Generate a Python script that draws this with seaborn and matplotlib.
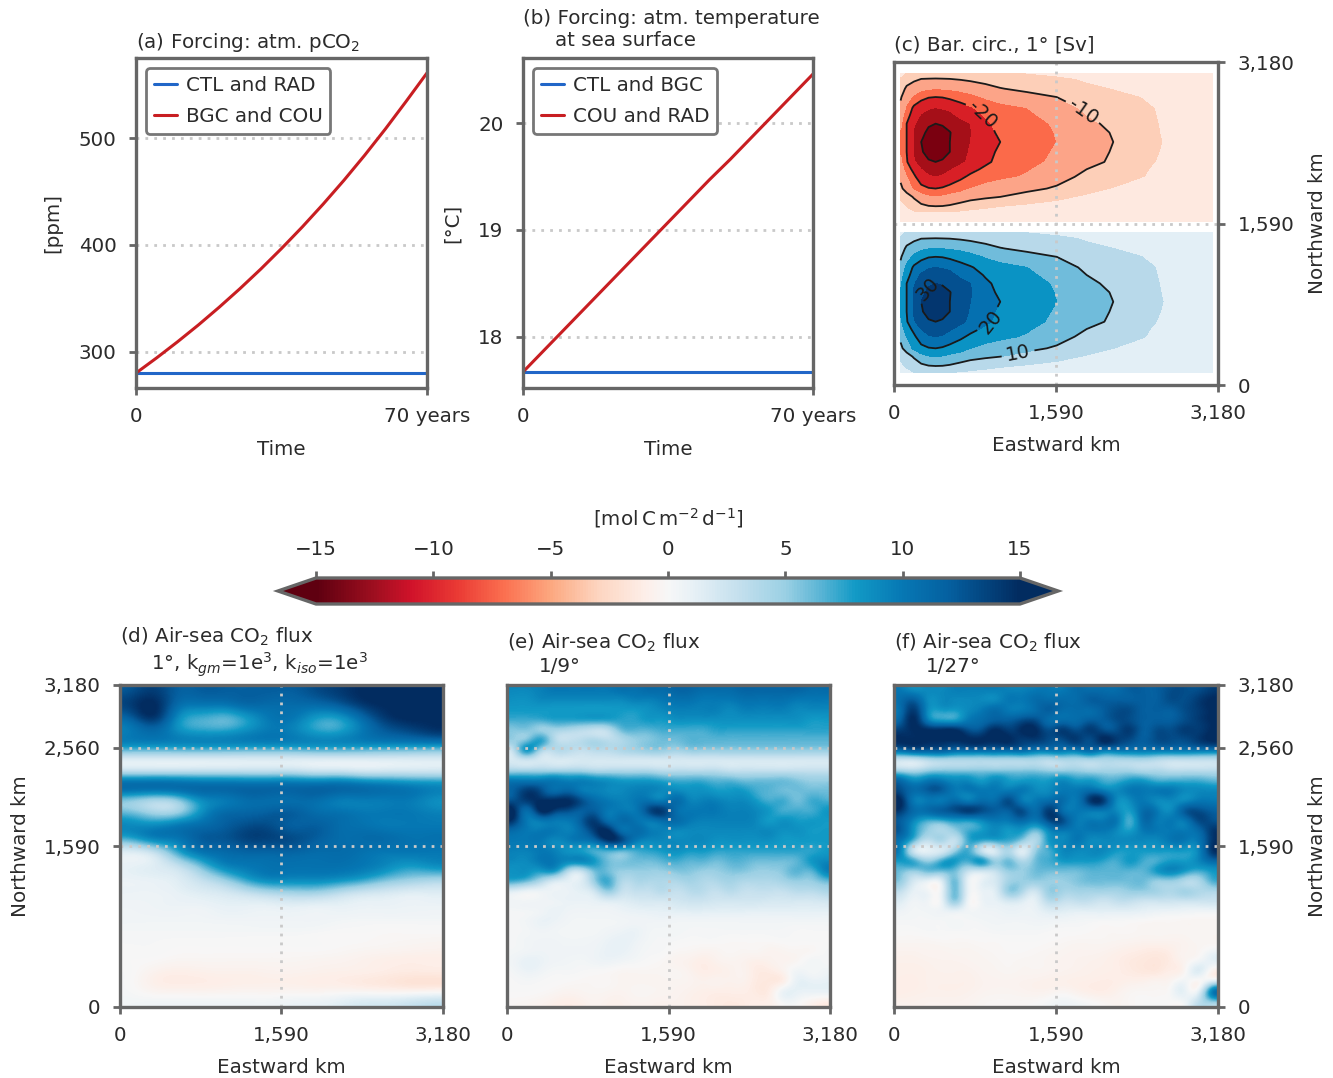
import matplotlib
matplotlib.use('Agg')
import matplotlib.pyplot as plt
import numpy as np
import seaborn as sns
from matplotlib.cm import ScalarMappable
from matplotlib.colors import LinearSegmentedColormap, Normalize

W, H = 1333, 1078

# forcing lines
years = [0, 5, 10, 15, 20, 25, 30, 35, 40, 45, 50, 55, 60, 65, 70]
pco2_ctl = [280] * 15
pco2_bgc = [280, 294.3, 309.3, 325, 341.6, 359, 377.3, 396.6, 416.8, 438.1, 460.4, 483.9, 508.6, 534.5, 561]
temp_ctl = [17.67] * 15
temp_cou = [17.67, 17.87, 18.07, 18.27, 18.47, 18.67, 18.87, 19.07, 19.27, 19.47, 19.66, 19.86, 20.06, 20.26, 20.46]

# barotropic circulation magnitude, one gyre [Sv]
gyre_x = [65, 124, 196, 267, 339, 408, 476, 548, 652, 750, 897, 1043, 1304, 1597, 1891, 2152, 2412, 2641, 3130]
north_y = [3071, 3016, 2917, 2835, 2731, 2656, 2573, 2485, 2393, 2295, 2196, 2124, 2049, 1934, 1852, 1760, 1695, 1610]
south_y = [1498, 1443, 1344, 1262, 1158, 1083, 1000, 912, 820, 722, 623, 551, 476, 361, 279, 187, 122]
gyre = [
    [4, 5.5, 5.8, 6, 6.5, 6.8, 6.7, 6.5, 6.2, 6, 5.7, 5.5, 5, 4, 2.5, 2, 1.5, 1, 0.5],
    [5.5, 7.5, 9, 9.9, 10, 10.1, 10, 9.9, 9.5, 9, 8.3, 7.8, 7, 6, 4.5, 3, 2, 1.5, 0.6],
    [7.5, 11, 12.5, 14, 14.7, 15, 14.8, 14.5, 13.8, 13, 11.5, 10.2, 9, 7.5, 6, 5, 3.3, 2, 0.7],
    [9.5, 13, 16, 18.5, 19.7, 20, 19.8, 19, 17.8, 16.5, 14.5, 13, 11.5, 10, 8, 6.5, 5.2, 3, 0.8],
    [11, 16, 21, 23, 24.5, 25, 24.6, 24, 22, 20.5, 18, 16.5, 15, 12.5, 9, 7.5, 6, 4.5, 1],
    [12.5, 18, 22.5, 25.5, 27, 27.5, 27, 26.2, 24, 22.5, 19.5, 17.5, 15.8, 13.5, 10, 8.5, 6.5, 4.5, 1],
    [14, 20, 24.5, 27.5, 29.5, 30, 29.6, 28.5, 26.5, 25, 21, 18.5, 16.5, 14.5, 11, 9, 7, 4.6, 1],
    [15.5, 20, 25.5, 29, 30.8, 32, 31.3, 30.2, 27.5, 25.3, 21.5, 19.2, 17, 14.8, 11.8, 9.7, 6.9, 4.8, 1],
    [17, 20, 25.5, 30, 32.5, 34, 32.5, 30, 27.5, 25, 22, 20, 17.5, 15, 12.5, 10, 6.8, 5, 1],
    [15.5, 20, 25.5, 29.5, 31.5, 32.5, 31.5, 30, 27, 24.5, 21.5, 19.2, 17, 14.5, 11.8, 9.7, 6.5, 4.8, 1],
    [14, 19.5, 24.5, 27.5, 29.5, 30, 29.5, 28, 26, 24, 21, 18.5, 16.5, 14, 11, 9.5, 6.2, 4.5, 1],
    [12.5, 17.5, 21.5, 25, 26.7, 27.5, 26.7, 25.5, 23.5, 21.5, 19, 17.2, 15.5, 12.8, 10, 8.5, 5.8, 4, 1],
    [11, 15, 19, 23, 24.5, 25, 24.5, 23, 21, 19, 17, 16, 14.5, 11.5, 9, 7.5, 5.5, 3.5, 1],
    [9, 12, 16, 18.5, 19.7, 20, 19.5, 18.5, 17, 15, 13.5, 12.5, 11, 9.5, 7, 5, 3, 2, 0.7],
    [6, 8, 10.5, 13, 14.5, 15, 14.5, 13.5, 12.5, 11.5, 10.7, 10, 8.5, 6.5, 4.5, 3, 2, 1.2, 0.6],
    [4, 5.5, 7.5, 9, 9.8, 10, 9.9, 9.5, 8.5, 7.5, 6.4, 5.5, 4.5, 3.5, 2.5, 1.5, 1, 0.8, 0.4],
    [3, 4, 4.8, 5, 5, 5, 5, 4.8, 4.5, 4, 3.4, 3, 2.5, 1.5, 1, 0.8, 0.7, 0.5, 0.3],
    [0.8, 0.8, 0.8, 0.8, 0.8, 0.8, 0.8, 0.8, 0.8, 0.8, 0.8, 0.8, 0.8, 0.7, 0.6, 0.5, 0.5, 0.4, 0.3],
]

flux_d = [
    [13, 14, 12, 12, 12, 12, 12, 12, 13, 14, 15, 15, 15, 15],
    [14, 15, 11, 10, 10, 11, 11, 11, 11, 12, 14, 15, 15, 15],
    [12, 14, 9, 7, 6.5, 8, 10, 10, 8, 8, 11, 14, 15, 15],
    [10, 11, 9, 8, 8, 9, 10, 9.5, 8, 8, 10, 12, 13, 14],
    [8.5, 8.5, 8.5, 8.5, 8.5, 8.5, 8.5, 8.5, 8.5, 8.5, 8.5, 8.5, 8.5, 8.5],
    [2, 2, 2, 2, 2, 2, 2, 2, 2, 2, 2, 2, 2, 2],
    [4, 4, 4, 4, 4, 4, 4, 4, 3.5, 3.5, 3, 3, 3, 3],
    [11, 11, 11, 11, 11, 11, 11, 11, 11, 11, 10.5, 10, 9.5, 9],
    [6, 5, 6, 9, 10, 11, 11, 11, 11, 10, 10, 10, 10, 9],
    [6, 4.5, 5, 8.5, 11, 11.5, 12, 12, 11, 10.5, 10, 10, 10, 9.5],
    [9, 9, 10, 11, 12, 13, 13, 12, 12, 11, 10.5, 10, 10, 10],
    [7, 9, 10, 12, 12.5, 13.5, 13.5, 13, 12, 11, 11, 11, 10.5, 10.5],
    [1.5, 3, 7, 10, 11, 11.5, 11.5, 11.5, 11, 11, 10.5, 10, 10, 10],
    [1, 1.5, 3, 6, 9, 10, 10.5, 10.5, 10.5, 10.5, 10, 9, 8, 8.5],
    [0.8, 1, 1.5, 3, 5, 7.5, 9, 9, 9, 8.5, 7.5, 6, 5, 4.5],
    [0.7, 0.7, 1, 1.5, 2, 3, 4, 4.5, 4.5, 3.5, 2.5, 2, 1.5, 1.5],
    [0.5, 0.6, 0.7, 0.7, 1, 1, 1, 1.2, 1, 1, 0.8, 0.8, 0.7, 0.7],
    [0.4, 0.4, 0.4, 0.4, 0.5, 0.5, 0.5, 0.5, 0.5, 0.4, 0.3, 0.3, 0.3, 0.3],
    [0.2, 0.2, 0.2, 0.2, 0.2, 0.2, 0.2, 0.2, 0.1, 0, 0, -0.1, -0.1, -0.1],
    [0.1, 0.1, 0, 0, 0, 0, 0, 0, 0, -0.1, -0.2, -0.3, -0.4, -0.5],
    [0, -0.1, -0.3, -0.3, -0.3, -0.3, -0.3, -0.3, -0.4, -0.5, -0.7, -0.9, -1, -1],
    [0, -0.7, -1, -0.9, -0.8, -0.8, -0.7, -0.7, -0.8, -0.9, -1, -1.2, -1.4, -1.4],
    [0, -0.7, -0.9, -0.9, -0.8, -0.7, -0.7, -0.7, -0.8, -0.8, -1, -1.2, -1.4, -1.4],
    [0.3, 0.3, 0.3, 0.3, 0.3, 0.3, 0.3, 0.5, 0.6, 1, 1.5, 1.6, 2, 2.5],
]

flux_e = [
    [9, 9, 9.5, 10, 10, 10, 10, 10, 10.5, 10.5, 11, 11, 11.5, 11.5, 11, 11, 11, 11.5, 11.5, 11.5, 11.5, 11.5, 11, 11],
    [8.5, 8.5, 9, 9, 9, 9, 9, 9, 9, 9.5, 9.5, 10, 10.5, 10.5, 10, 10, 10, 10.5, 10.5, 10.5, 10.5, 10, 10, 10],
    [8, 8, 8, 8, 8, 8, 8, 8, 8, 8, 8.5, 9, 9.5, 9.5, 9.5, 9.5, 9, 9.5, 9.5, 9.5, 9.5, 9, 9, 9],
    [7, 7, 7, 7.5, 7.5, 7.5, 7.5, 7.5, 7.5, 7.5, 8, 8, 8.5, 8.5, 8.5, 8.5, 8.5, 8.5, 8.5, 8.5, 8.5, 8.5, 8, 8],
    [5.5, 5.5, 5, 4.5, 4, 3.5, 3, 3.5, 6, 6.5, 6.5, 7, 7, 7, 7, 7.5, 7.5, 7.5, 7.5, 7.5, 7.5, 7.5, 7.5, 7.5],
    [5, 6, 7.5, 4, 3, 3.5, 4, 3.5, 4, 5, 5.5, 6, 6, 6.5, 6.5, 6.5, 6.5, 6.5, 6.5, 6.5, 6.5, 6.5, 6.5, 6.5],
    [3.5, 8, 4.5, 3.5, 3.5, 3, 3.5, 3.5, 4, 4.5, 5, 5, 4.5, 5, 5, 5, 5, 5, 5, 5, 5, 5, 5, 5],
    [2, 2.5, 2, 1.8, 1.8, 2, 2, 2, 2, 2, 2, 2, 2, 2, 2, 2, 2, 2, 2, 2, 2, 2, 2, 2],
    [4.5, 4.5, 4.5, 4.5, 4.5, 4.5, 4, 4, 4, 4, 4, 3.5, 3.5, 3.5, 3.5, 3.5, 3, 3, 3, 3, 3, 3, 3, 3],
    [10, 10, 10, 10, 9.5, 9.5, 9, 8.5, 8, 8, 8, 7.5, 7, 7, 7, 6.5, 6.5, 6, 6, 6, 6, 5.5, 5, 5],
    [12, 14, 13, 11, 11.5, 10, 9.5, 9, 9, 9.5, 9.5, 9, 9, 8.5, 8.5, 8, 8, 8, 7, 6.5, 6, 6, 6, 6],
    [13, 14, 15, 15, 15, 13, 11, 10, 9.5, 10, 10.5, 10, 11, 9.5, 9.5, 9.5, 9, 9, 8, 7, 7, 6, 7, 7],
    [15, 11, 15, 14, 13, 12, 12, 10, 10, 10, 13, 14, 11, 10, 10, 10, 9.5, 9.5, 9, 8, 7, 7, 7, 8],
    [14, 10, 10, 10, 10, 12, 14, 11, 11, 10.5, 10, 11, 11, 10, 9.5, 9.5, 9.5, 9.5, 9, 8, 8.5, 8, 8, 8],
    [11, 10, 10, 10, 9.5, 11, 14, 15, 11, 11, 10, 9.5, 9, 9, 9, 9, 9, 9, 9, 9, 8.5, 8.5, 8, 8],
    [10, 10, 10, 9, 9.5, 10, 11, 14, 13, 10, 9, 9, 9, 9, 9, 8.5, 8.5, 8.5, 8.5, 8.5, 8, 8, 8, 8],
    [9.5, 9.5, 10, 9.5, 8.5, 8, 7, 7, 6.5, 7, 7.5, 8, 8.5, 8, 8, 7.5, 7.5, 7.5, 7.5, 7.5, 7.5, 7.5, 7.5, 8],
    [9, 9, 10, 10, 9, 9, 8, 6, 5.5, 6, 6, 6.5, 7, 6.5, 6.5, 6, 6.5, 6.5, 6, 6, 6, 6.5, 8, 9],
    [8.5, 8.5, 8, 8, 4, 3, 6, 6, 5, 5, 5, 5, 5.5, 5.5, 5, 5, 5.5, 5.5, 5, 5, 5.5, 6.5, 6.5, 9],
    [7, 6, 4, 2, 1.2, 1.5, 5, 7, 4, 4, 4, 4, 4, 4.5, 4, 4, 4.5, 4, 4, 4, 4.5, 5, 5, 6],
    [1.5, 0.8, 0.7, 0.7, 0.8, 1.2, 2.5, 5, 3, 3, 3, 3.5, 3, 3.5, 3.5, 3, 3.5, 3, 3, 3, 3, 3.5, 3.5, 4],
    [0.4, 0.4, 0.5, 0.6, 0.8, 0.8, 1, 1.5, 1.5, 1.8, 2, 2, 2.2, 2.5, 2.5, 2.2, 2.2, 2.2, 2.2, 2, 2, 2, 2, 2.2],
    [0.2, 0.3, 0.5, 0.8, 0.6, 0.5, 0.5, 0.5, 0.7, 0.9, 1, 1.1, 1.2, 1.3, 1.3, 1.2, 1.2, 1.2, 1.1, 1.1, 1.1, 1.1, 1.1, 1.1],
    [0.2, 0.4, 0.8, 0.7, 0.4, 0.3, 0.3, 0.3, 0.4, 0.5, 0.5, 0.5, 0.4, 0.4, 0.4, 0.4, 0.4, 0.4, 0.4, 0.4, 0.4, 0.4, 0.4, 0.4],
    [0.2, 0.3, 0.5, 0.4, 0.3, 0.3, 0.3, 0.5, 0.7, 0.8, 0.4, 0.3, 0.3, 0.2, 0.2, 0.2, 0.2, 0.2, 0.2, 0.2, 0.2, 0.1, 0.1, 0.1],
    [0.2, 0.4, 0.5, 0.5, 0.4, 0.4, 0.5, 0.8, 1, 0.7, 0.3, 0.2, 0.1, 0, 0, 0, -0.1, -0.1, -0.1, -0.1, 0, 0, 0, 0],
    [0.3, 0.5, 0.6, 0.5, 0.5, 0.5, 0.6, 0.9, 0.9, 0.5, 0.2, 0.1, -0.2, -0.3, -0.5, -0.4, -0.2, -0.3, -0.3, -0.5, -0.4, -0.3, -0.2, 0.1],
    [0.5, 1, 0.8, 0.5, 0.4, 0.3, 0.5, 0.6, 0.4, 0.2, 0, -0.2, -0.5, -0.7, -1, -0.7, -0.5, -0.6, -0.9, -0.7, -0.5, -0.2, 0.3, 0.2],
    [0.3, 0.7, 0.5, 0.2, 0.2, 0.1, 0, -0.1, -0.3, -0.3, -0.3, -0.3, -0.3, -0.6, -1, -0.9, -0.7, -0.6, -1.2, -1.2, -0.6, 0.5, 0.3, 0.5],
    [0.1, 0.2, 0.1, 0, -0.1, -0.2, -0.2, -0.2, -0.4, -0.4, -0.4, -0.4, -0.4, -0.5, -0.7, -0.6, -0.7, -0.7, -1.3, -1.4, -0.8, 1, 1, 1],
    [0, 0, -0.1, -0.3, -0.5, -0.4, -0.3, -0.4, -0.5, -0.3, -0.3, -0.4, -0.5, -0.7, -0.9, -1, -1, -1, -1.3, -1, 0.8, 1, 0.8, 0.8],
    [-0.2, -0.3, -0.5, -0.8, -1, -0.8, -0.5, -0.7, -0.7, -0.5, -0.5, -0.6, -0.6, -0.8, -1, -1.2, -1.3, -1.2, -1, -0.8, 0.3, 0.2, -0.5, -1],
]

flux_f = [
    [10, 9, 9, 9, 9.5, 9.5, 9.5, 9.5, 9.5, 9.5, 10, 10, 10, 11, 11, 11, 11, 12, 12, 12, 13, 13, 13, 14],
    [11, 12, 9, 9, 9, 9, 9, 9, 10, 10, 11, 11, 11, 11, 12, 12, 12, 12, 12, 12, 13, 13, 14, 15],
    [11, 14, 9, 8, 8, 9, 10, 11, 10, 10, 11, 12, 11, 11, 11, 12, 13, 13, 12, 12, 12, 13, 14, 15],
    [12, 15, 10, 8, 8, 10, 11, 12, 12, 13, 13, 11, 11, 11, 12, 12, 13, 13, 12, 12, 12, 13, 14, 15],
    [14, 15, 15, 15, 15, 13, 13, 15, 14, 15, 15, 13, 14, 13, 14, 13, 13, 14, 12, 13, 13, 14, 14, 15],
    [15, 15, 15, 15, 15, 15, 15, 15, 15, 14, 14, 13, 13, 14, 13, 15, 14, 13, 12, 13, 13, 13, 14, 15],
    [11, 12, 12, 12, 11, 11, 11, 11, 11, 11, 10, 10, 10, 10, 11, 10, 10, 10, 10, 10, 10, 10, 10, 10],
    [2.5, 2.5, 3.5, 4, 4, 4, 4, 4, 4, 4, 4, 3.5, 4, 4, 4, 4, 4, 4, 4, 3.5, 3, 3, 3, 3],
    [4.5, 4, 5, 5.5, 5.5, 5.5, 5.5, 5.5, 5.5, 5.5, 5.5, 5, 5, 5, 4.5, 4.5, 4.5, 4.5, 4, 4, 3.5, 3.5, 3.5, 3.5],
    [11, 9, 10, 10, 9, 9, 8, 9, 8, 8, 8, 8, 9, 8, 8, 7, 7, 8, 8, 7, 7, 7, 7, 6.5],
    [13, 11, 12, 12, 10, 10, 10, 10, 10, 10, 9, 9, 10, 10, 11, 10, 9, 10, 10, 10, 10, 9, 9, 9],
    [15, 10, 10, 10, 11, 10, 11, 11, 13, 10, 10, 11, 11, 10, 14, 14, 9, 9, 10, 9, 9, 9, 10, 10],
    [14, 11, 11, 12, 13, 14, 13, 12, 12, 13, 11, 14, 11, 10, 10, 10, 9, 8, 11, 10, 9, 12, 13, 12],
    [12, 9, 7, 7, 8, 8, 9, 10, 10, 11, 10, 13, 13, 10, 10, 10, 10, 7, 11, 10, 10, 10, 13, 13],
    [12, 8, 5, 4, 5, 7, 8, 9, 8, 8, 6, 9, 10, 10, 10, 10, 9, 8, 10, 10, 10, 10, 11, 14],
    [10, 6, 3, 4, 3, 7, 7, 7, 7, 5, 4, 8, 9, 10, 9, 9, 9, 9, 9, 9, 10, 10, 10, 14],
    [9, 2.5, 1.2, 2, 5, 7, 3, 2, 4, 1.5, 5, 7, 9, 9, 9, 9, 8, 8, 8, 8, 8, 8, 9, 14],
    [8, 7, 5, 7, 8, 7, 8, 5, 6, 4, 6, 7, 8, 8, 8, 7.5, 7, 8, 7, 7, 8, 8, 9, 11],
    [6, 5, 6, 6, 6, 3, 2.5, 3, 5, 5, 6, 6, 6, 6, 6.5, 6.5, 6.5, 6.5, 6.5, 8, 9, 8, 7, 8],
    [5, 2, 1, 1.5, 6, 1, 1, 2, 4.5, 5, 5, 5, 5, 5.5, 6, 6, 6, 6, 6, 5, 5, 4, 4, 6.5],
    [3, 1, 0.5, 0.8, 6, 1, 0.8, 1.5, 5, 4, 2.5, 5, 4.5, 4.5, 4.5, 4.5, 4.5, 5, 5, 4.5, 4, 4.5, 4, 4],
    [1.5, 0.5, 0.5, 0.7, 5, 0.6, 0.6, 1, 2, 1.5, 1.2, 3.5, 3, 3, 3, 2.5, 3, 3, 2.5, 2.5, 2.5, 2.5, 2.5, 2.5],
    [0.6, 0.3, 0.4, 0.6, 1, 0.4, 0.5, 0.6, 0.8, 0.7, 0.8, 1.5, 1.4, 1.2, 1.2, 1.2, 1.2, 1.2, 1, 0.8, 0.7, 0.6, 0.5, 0.5],
    [0.2, 0.2, 0.2, 0.2, 0.3, 0.2, 0.3, 0.4, 0.4, 0.4, 0.5, 0.5, 0.4, 0.3, 0.2, 0.1, 0.1, 0, -0.1, -0.2, -0.2, -0.3, -0.3, -0.3],
    [0, 0, 0.1, 0.1, 0.1, 0.1, 0.1, 0.2, 0.2, 0.2, 0.2, 0.1, 0, 0, -0.1, -0.2, -0.2, -0.2, -0.3, -0.3, -0.3, -0.3, -0.3, -0.3],
    [-0.3, -0.3, -0.3, -0.2, -0.2, -0.2, -0.1, -0.1, 0, 0, 0, -0.1, -0.2, -0.3, -0.3, -0.3, -0.4, -0.5, -0.6, -0.6, -0.6, -0.5, -0.3, -0.3],
    [-0.6, -0.6, -0.5, -0.5, -0.4, -0.4, -0.3, -0.2, -0.1, -0.1, -0.2, -0.3, -0.4, -0.5, -0.5, -0.6, -0.8, -1, -1.2, -1.3, -1, -0.5, -0.3, 0.5],
    [-0.8, -0.8, -0.7, -0.6, -0.6, -0.5, -0.4, -0.3, -0.2, -0.3, -0.3, -0.4, -0.5, -0.6, -0.7, -0.8, -1, -1.3, -1.5, -1.6, -1.2, -0.5, 0.5, 1],
    [-0.9, -0.9, -0.8, -0.7, -0.7, -0.7, -0.5, -0.4, -0.3, -0.4, -0.4, -0.5, -0.6, -0.7, -0.8, -0.9, -1, -1.2, -1.4, -1.4, -1, -0.3, 1.5, -0.5],
    [-1, -1, -0.8, -0.8, -0.8, -0.8, -0.6, -0.5, -0.5, -0.6, -0.7, -0.8, -0.8, -0.9, -1, -1.1, -1, -0.8, -0.7, -0.5, -0.3, 0.5, -0.3, 2],
    [-1, -0.9, -0.8, -0.8, -0.8, -0.7, -0.5, -0.4, -0.4, -0.5, -0.6, -0.5, -0.3, -0.6, -0.9, -1, -0.7, -0.3, -0.2, -0.2, 0.2, 1, 1, 9],
    [-0.7, -0.7, -0.6, -0.6, -0.6, -0.5, -0.3, -0.2, -0.2, -0.2, -0.1, 0.2, 0.5, 0.3, 0, -0.3, -0.4, -0.2, 0, 0, 0, 0.5, 3, 5],
]

cbar_ticks = [-15, -10, -5, 0, 5, 10, 15]
km_ticks = [0, 1590, 3180]
km_labels = ['0', '1,590', '3,180']
km_ticks_y = [0, 1590, 2560, 3180]
km_labels_y = ['0', '1,590', '2,560', '3,180']

GRAY = '#666666'
TEXT = '#2b2b2b'
DOT = '#c9c9c9'
DOTS = (0, (1, 2.2))
FS = 14.3
sns.set_theme(style='ticks', rc={
    'font.size': FS, 'axes.labelsize': FS, 'xtick.labelsize': FS, 'ytick.labelsize': FS,
    'legend.fontsize': FS, 'axes.edgecolor': GRAY, 'axes.linewidth': 2.4,
    'xtick.color': GRAY, 'ytick.color': GRAY, 'xtick.major.width': 2, 'ytick.major.width': 2,
    'xtick.major.size': 5, 'ytick.major.size': 5, 'xtick.labelcolor': TEXT, 'ytick.labelcolor': TEXT,
    'xtick.major.pad': 9, 'ytick.major.pad': 9,
    'axes.labelcolor': TEXT, 'text.color': TEXT, 'mathtext.default': 'regular'})
plt.rcParams['font.family'] = ['DejaVu Sans']

flux_cmap = LinearSegmentedColormap.from_list('flux', [
    ((-15 + 15) / 30, '#5f0010'), ((-12.5 + 15) / 30, '#a00f20'), ((-11 + 15) / 30, '#d0122a'),
    ((-9 + 15) / 30, '#ea3a34'), ((-7 + 15) / 30, '#fb7050'), ((-5 + 15) / 30, '#fca880'),
    ((-3 + 15) / 30, '#fdd5c0'), ((-1 + 15) / 30, '#fdeee8'), (15 / 30, '#f7f7f7'),
    ((1 + 15) / 30, '#e8f1f6'), ((3 + 15) / 30, '#c5e0ee'), ((5 + 15) / 30, '#9bd0e4'),
    ((6.5 + 15) / 30, '#5bb5d5'), ((8 + 15) / 30, '#129ac6'), ((10 + 15) / 30, '#0678b4'),
    ((12 + 15) / 30, '#0560a0'), ((13.5 + 15) / 30, '#034580'), (1.0, '#022c60')])
flux_cmap.set_extremes(under='#5f0010', over='#022c60')

fig = plt.figure(figsize=(W / 100, H / 100), dpi=100)


def add_ax(x0, x1, y0, y1):
    return fig.add_axes([x0 / W, 1 - y1 / H, (x1 - x0) / W, (y1 - y0) / H])


def label(px, py, s):
    fig.text(px / W, 1 - py / H, s, va='center', ha='left', fontsize=FS)


def line_panel(ax, y1, y2, names, ylim, yticks, ylabel):
    sns.lineplot(x=years, y=y1, color='#2166c8', lw=2.2, label=names[0], ax=ax)
    sns.lineplot(x=years, y=y2, color='#c81e22', lw=2.2, label=names[1], ax=ax)
    ax.set_xlim(0, 70)
    ax.set_ylim(*ylim)
    ax.set_xticks([0, 70], ['0', '70 years'])
    ax.set_yticks(yticks)
    ax.set_xlabel('Time', labelpad=10)
    ax.set_ylabel(ylabel, labelpad=12)
    for v in yticks:
        ax.axhline(v, color=DOT, ls=DOTS, lw=2, zorder=1)
    ax.legend(loc='upper left', bbox_to_anchor=(0.0, 1.0), borderaxespad=0.5, fancybox=True,
              framealpha=1, edgecolor='#777777', handlelength=1.15, handletextpad=0.45,
              labelspacing=0.6).get_frame().set_linewidth(2)


ax_a = add_ax(136, 427, 58, 388)
line_panel(ax_a, pco2_ctl, pco2_bgc, ['CTL and RAD', 'BGC and COU'], (266, 575), [300, 400, 500], '[ppm]')
ax_b = add_ax(523, 813, 58, 388)
line_panel(ax_b, temp_ctl, temp_cou, ['CTL and BGC', 'COU and RAD'], (17.52, 20.61), [18, 19, 20], '[°C]')
label(136, 42, '(a) Forcing: atm. pCO$_2$')
label(523, 18, '(b) Forcing: atm. temperature')
label(555, 41, 'at sea surface')

# panel c: filled gyres with line contours
ax_c = add_ax(894, 1218, 62, 385)
levels = [-40, -30, -25, -20, -15, -10, -5, 0, 5, 10, 15, 20, 25, 30, 40]
fill_colors = ['#7a0010', '#a50f18', '#d81f26', '#fb6a4a', '#fca488', '#fdcfb8', '#fee9e0',
               '#e3eff6', '#b8d9ea', '#70bcdb', '#0a93c4', '#0570b0', '#045090', '#03366f']
X_n, Y_n = np.meshgrid(gyre_x, north_y)
X_s, Y_s = np.meshgrid(gyre_x, south_y)
Z_n = -np.array(gyre)
Z_s = np.array(gyre)[:17]
ax_c.contourf(X_n, Y_n, Z_n, levels=levels, colors=fill_colors)
ax_c.contourf(X_s, Y_s, Z_s, levels=levels, colors=fill_colors)
ax_c.contour(X_n, Y_n, Z_n, levels=[-30], colors='k', linewidths=1.3, linestyles='solid')
cs_n = ax_c.contour(X_n, Y_n, Z_n, levels=[-20, -10], colors='k', linewidths=1.3, linestyles='solid')
cs_s = ax_c.contour(X_s, Y_s, Z_s, levels=[10, 20, 30], colors='k', linewidths=1.3, linestyles='solid')
ax_c.clabel(cs_n, fmt=lambda v: f'{v:.0f}', fontsize=14, manual=[(870, 2660), (1880, 2720)])
ax_c.clabel(cs_s, fmt=lambda v: f'{v:.0f}', fontsize=14, manual=[(1220, 300), (960, 620), (300, 960)])
ax_c.axvline(1590, color=DOT, ls=DOTS, lw=2)
ax_c.axhline(1590, color=DOT, ls=DOTS, lw=2)
ax_c.set_xlim(0, 3180)
ax_c.set_ylim(0, 3180)
ax_c.set_xticks(km_ticks, km_labels)
ax_c.set_yticks(km_ticks, km_labels)
ax_c.yaxis.tick_right()
ax_c.yaxis.set_label_position('right')
ax_c.set_xlabel('Eastward km', labelpad=9)
ax_c.set_ylabel('Northward km', labelpad=10)
label(894, 45, '(c) Bar. circ., 1° [Sv]')

# colorbar
cax = add_ax(278, 1058, 578, 604)
cb = fig.colorbar(ScalarMappable(Normalize(-15, 15), flux_cmap), cax=cax, orientation='horizontal',
                  extend='both', extendfrac=0.054)
cb.set_ticks(cbar_ticks, labels=['−15', '−10', '−5', '0', '5', '10', '15'])
cb.ax.xaxis.set_ticks_position('top')
cb.ax.xaxis.set_label_position('top')
cb.set_label(r'[mol$\,$C$\,$m$^{-2}\,$d$^{-1}$]', labelpad=10)
cb.outline.set_edgecolor(GRAY)
cb.outline.set_linewidth(2.4)


def flux_panel(ax, field):
    ax.imshow(field, cmap=flux_cmap, norm=Normalize(-15, 15), extent=(0, 3180, 0, 3180),
              aspect='auto', interpolation='lanczos')
    ax.axvline(1590, color=DOT, ls=DOTS, lw=2)
    ax.axhline(1590, color=DOT, ls=DOTS, lw=2)
    ax.axhline(2560, color=DOT, ls=DOTS, lw=2)
    ax.set_xlim(0, 3180)
    ax.set_ylim(0, 3180)
    ax.set_xticks(km_ticks, km_labels)
    ax.set_xlabel('Eastward km', labelpad=9)


ax_d = add_ax(120, 443, 685, 1007)
flux_panel(ax_d, flux_d)
ax_d.set_yticks(km_ticks_y, km_labels_y)
ax_d.set_ylabel('Northward km', labelpad=10)
label(120, 637, '(d) Air-sea CO$_2$ flux')
label(151, 665, r'1°, k$_{\mathit{gm}}$=1e$^3$, k$_{\mathit{iso}}$=1e$^3$')

ax_e = add_ax(507, 830, 685, 1007)
flux_panel(ax_e, flux_e)
ax_e.set_yticks([])
label(507, 643, '(e) Air-sea CO$_2$ flux')
label(539, 667, '1/9°')

ax_f = add_ax(894, 1218, 685, 1007)
flux_panel(ax_f, flux_f)
ax_f.set_yticks(km_ticks_y, km_labels_y)
ax_f.yaxis.tick_right()
ax_f.yaxis.set_label_position('right')
ax_f.set_ylabel('Northward km', labelpad=10)
label(894, 643, '(f) Air-sea CO$_2$ flux')
label(926, 667, '1/27°')

fig.savefig('out.png', dpi=100)
